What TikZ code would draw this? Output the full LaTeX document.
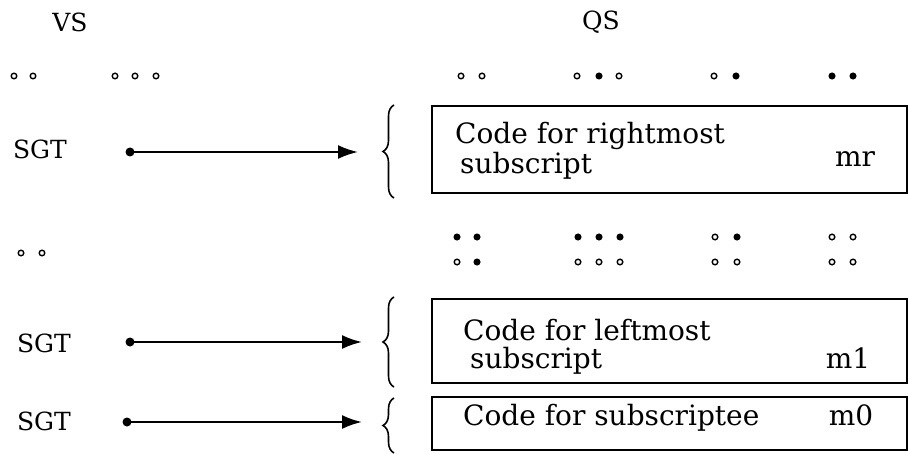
\documentclass[tikz,border=0pt]{standalone}
\usepackage{fontspec}
\setmainfont{DejaVu Serif}
\usetikzlibrary{arrows.meta,decorations.pathreplacing}
\tikzset{
  box/.style={draw, line width=2.4pt},
  lbl/.style={font=\fontsize{28}{32}\selectfont, inner sep=0pt},
  tag/.style={font=\fontsize{25}{30}\selectfont, inner sep=0pt},
  brc/.style={decorate, decoration={brace, amplitude=11pt, aspect=0.5}, line width=1.6pt},
  link/.style={line width=2.2pt, -{Latex[length=20pt,width=14pt]}},
}
\begin{document}
\begin{tikzpicture}[x=1pt, y=1pt]
 \useasboundingbox (0,0) rectangle (909,453);
 % headings
 \node[tag] (vs) at (70,431) {VS};
 \node[tag] (qs) at (601,431) {QS};
 % dot rows
 \foreach \x/\f in {14/white,33/white,115/white,135/white,156/white,
     461/white,482/white,577/white,599/black,619/white,
     714/white,736/black,832/black,853/black}
 {
     \draw[line width=1.4pt, fill=\f](\x,377) circle (2.8pt);
 }
 \foreach \x/\f in {21/white,42/white}
 {
     \draw[line width=1.4pt, fill=\f](\x,200) circle (2.8pt);
 }
 \foreach \x/\f in {457/black,477/black,578/black,599/black,620/black,
     715/white,737/black,832/white,853/white}
 {
     \draw[line width=1.4pt, fill=\f](\x,216) circle (2.8pt);
 }
 \foreach \x/\f in {457/white,477/black,578/white,599/white,620/white,
     715/white,737/white,832/white,853/white}
 {
     \draw[line width=1.4pt, fill=\f](\x,191) circle (2.8pt);
 }
 % pointers
 \node[tag] (sgt1) at (40,304) {SGT};
 \node[tag] (sgt2) at (44,110) {SGT};
 \node[tag] (sgt3) at (44,32) {SGT};
 \coordinate (s1) at (130,301);
 \coordinate (e1) at (358,301);
 \coordinate (s2) at (130,111);
 \coordinate (e2) at (362,111);
 \coordinate (s3) at (127,31);
 \coordinate (e3) at (362,31);
 \foreach \i in {1,2,3}
 {
     \fill(s\i) circle (4.5pt);
     \draw[link](s\i)--(e\i);
 }
 % braces
 \draw[brc](394,255)--(394,348);
 \draw[brc](394,66)--(394,156);
 \draw[brc](394,0)--(394,55);
 % code blocks
 \draw[box](432,260) rectangle (907,347);
 \draw[box](432,70) rectangle (907,154);
 \draw[box](432,3) rectangle (907,56);
 \node[lbl, anchor=base west] (c1a) at (455,309) {Code for rightmost};
 \node[lbl, anchor=base west] (c1b) at (460,279) {subscript};
 \node[lbl, anchor=base] (mr) at (855,286) {mr};
 \node[lbl, anchor=base west] (c2a) at (463,113) {Code for leftmost};
 \node[lbl, anchor=base west] (c2b) at (470,85) {subscript};
 \node[lbl, anchor=base] (m1) at (848,85) {m1};
 \node[lbl, anchor=base west] (c3) at (463,28) {Code for subscriptee};
 \node[lbl, anchor=base] (m0) at (851,28) {m0};
\end{tikzpicture}
\end{document}
